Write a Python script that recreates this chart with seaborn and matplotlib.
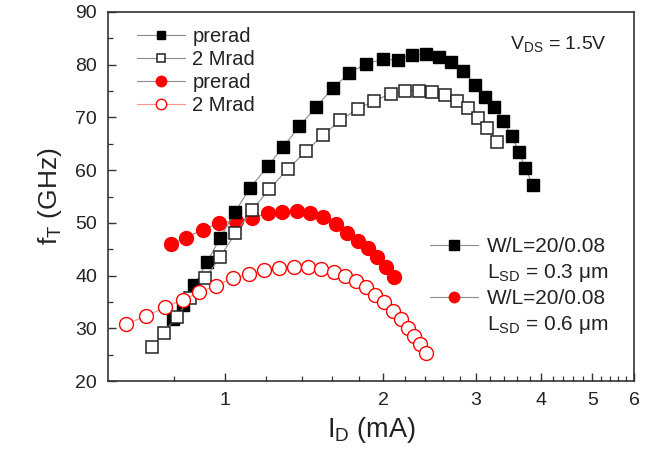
import numpy as np
import pandas as pd
import matplotlib
matplotlib.use("Agg")
import matplotlib.pyplot as plt
import seaborn as sns
from matplotlib.lines import Line2D
from matplotlib.ticker import FixedLocator, NullFormatter, FixedFormatter

# ---- data ----
sq_pre_x = [0.796, 0.832, 0.876, 0.926, 0.980, 1.047, 1.117, 1.207, 1.289, 1.387,
            1.492, 1.604, 1.726, 1.857, 1.997, 2.133, 2.272, 2.415, 2.560, 2.694,
            2.843, 2.992, 3.121, 3.256, 3.387, 3.519, 3.622, 3.730, 3.851]
sq_pre_y = [31.8, 34.4, 38.2, 42.6, 47.1, 52.1, 56.6, 60.7, 64.3, 68.3,
            72.0, 75.5, 78.4, 80.2, 81.0, 80.9, 81.9, 82.0, 81.5, 80.6,
            78.8, 76.2, 73.8, 71.9, 69.4, 66.4, 63.5, 60.4, 57.1]

sq_rad_x = [0.728, 0.766, 0.810, 0.860, 0.919, 0.981, 1.048, 1.127, 1.216, 1.318,
            1.428, 1.540, 1.660, 1.790, 1.926, 2.072, 2.206, 2.346, 2.483, 2.628,
            2.770, 2.897, 3.034, 3.158, 3.289]
sq_rad_y = [26.5, 29.1, 32.2, 35.7, 39.5, 43.6, 48.0, 52.4, 56.4, 60.2,
            63.6, 66.7, 69.5, 71.6, 73.2, 74.5, 75.1, 75.1, 74.9, 74.3,
            73.2, 71.7, 69.9, 67.9, 65.4]

ci_pre_x = [0.790, 0.845, 0.908, 0.977, 1.050, 1.126, 1.207, 1.286, 1.370, 1.454,
            1.536, 1.626, 1.706, 1.790, 1.870, 1.947, 2.025, 2.095]
ci_pre_y = [45.9, 47.2, 48.7, 49.9, 50.4, 50.9, 51.8, 52.1, 52.2, 51.8,
            51.1, 49.7, 48.0, 46.6, 45.2, 43.5, 41.7, 39.7]

ci_rad_x = [0.650, 0.708, 0.770, 0.832, 0.895, 0.963, 1.036, 1.111, 1.188, 1.270,
            1.352, 1.438, 1.522, 1.611, 1.696, 1.777, 1.857, 1.934, 2.012, 2.086,
            2.164, 2.228, 2.294, 2.355, 2.415]
ci_rad_y = [30.8, 32.3, 34.0, 35.4, 36.8, 38.1, 39.5, 40.3, 41.1, 41.5,
            41.6, 41.6, 41.2, 40.7, 40.0, 39.0, 37.9, 36.4, 34.9, 33.2,
            31.7, 30.1, 28.5, 27.0, 25.4]

legend_labels = ["prerad", "2 Mrad", "prerad", "2 Mrad"]
device_labels = ["W/L=20/0.08", "L$_{SD}$ = 0.3 \u03bcm", "W/L=20/0.08", "L$_{SD}$ = 0.6 \u03bcm"]
x_major = [1, 2, 3, 4, 5, 6]
x_major_labels = ["1", "2", "3", "4", "5", "6"]
y_major = [20, 30, 40, 50, 60, 70, 80, 90]

# ---- style ----
sns.set_theme(style="white")
plt.rcParams['font.family'] = ['Liberation Sans', 'DejaVu Sans']
plt.rcParams['mathtext.default'] = 'regular'

fig = plt.figure(figsize=(6.62, 4.55), dpi=100)
fig.patch.set_facecolor('white')
ax = fig.add_axes([108/662, 74/455, 526/662, 369/455])
ax.set_xscale('log')

gray = '#8a8a8a'
common = dict(ax=ax, sort=False, estimator=None, lw=0.8)

sns.lineplot(x=sq_pre_x, y=sq_pre_y, color=gray, marker='s', ms=8.5,
             markerfacecolor='black', mec='black', mew=1.0, zorder=3, **common)
sns.lineplot(x=sq_rad_x, y=sq_rad_y, color=gray, marker='s', ms=8.5,
             markerfacecolor='white', mec='#222222', mew=1.1, zorder=4, **common)
sns.lineplot(x=ci_pre_x, y=ci_pre_y, color=gray, marker='o', ms=10,
             markerfacecolor='#ff0000', mec='#ff0000', mew=1.0, zorder=2, **common)
sns.lineplot(x=ci_rad_x, y=ci_rad_y, color='#ff9090', marker='o', ms=10,
             markerfacecolor='white', mec='#ff0000', mew=1.0, zorder=5, **common)

ax.set_xlim(0.6, 6)
ax.set_ylim(20, 90)

ax.xaxis.set_major_locator(FixedLocator(x_major))
ax.xaxis.set_major_formatter(FixedFormatter(x_major_labels))
minor = [round(v, 1) for v in np.arange(0.8, 6.0, 0.2) if abs(v - round(v)) > 1e-6]
ax.xaxis.set_minor_locator(FixedLocator(minor))
ax.xaxis.set_minor_formatter(NullFormatter())
ax.yaxis.set_major_locator(FixedLocator(y_major))
ax.yaxis.set_minor_locator(FixedLocator([25, 35, 45, 55, 65, 75, 85]))

ax.tick_params(which='both', direction='in', top=False, right=False,
               bottom=True, left=True, colors='#333333', labelcolor='#222222')
ax.tick_params(which='major', length=6, width=1, labelsize=14, pad=8)
ax.tick_params(which='minor', length=3.5, width=0.9)
for s in ax.spines.values():
    s.set_color('#333333')
    s.set_linewidth(1.2)

ax.set_xlabel("I$_D$ (mA)", fontsize=19.5, color='#222222', labelpad=4)
ax.set_ylabel("f$_T$ (GHz)", fontsize=19, color='#222222', labelpad=8)

# legend 1 (series)
lines = ax.get_lines()
leg1 = ax.legend(lines[:4], legend_labels, loc='upper left',
                 bbox_to_anchor=(0.040, 0.982), frameon=False, fontsize=14.5,
                 handlelength=2.39, handletextpad=0.35, labelspacing=0.21,
                 markerscale=0.75, borderaxespad=0)
for t in leg1.get_texts():
    t.set_color('#222222')
ax.add_artist(leg1)

# legend 2 (devices)
h_sq = Line2D([], [], color=gray, lw=0.8, marker='s', ms=7, markerfacecolor='black', mec='black')
h_ci = Line2D([], [], color=gray, lw=0.8, marker='o', ms=7.5, markerfacecolor='#ff0000', mec='#ff0000')
h_blank = Line2D([], [], color='none', lw=0)
leg2 = ax.legend([h_sq, h_blank, h_ci, h_blank], device_labels, loc='upper left',
                 bbox_to_anchor=(0.596, 0.413), frameon=False, fontsize=15,
                 handlelength=2.3, handletextpad=0.43, labelspacing=0.27,
                 borderaxespad=0)
for t in leg2.get_texts():
    t.set_color('#222222')

ax.text(0.764, 0.913, "V$_{DS}$ = 1.5V", transform=ax.transAxes, fontsize=14,
        color='#222222', ha='left', va='center')

fig.savefig("out.png", dpi=100, facecolor='white')
